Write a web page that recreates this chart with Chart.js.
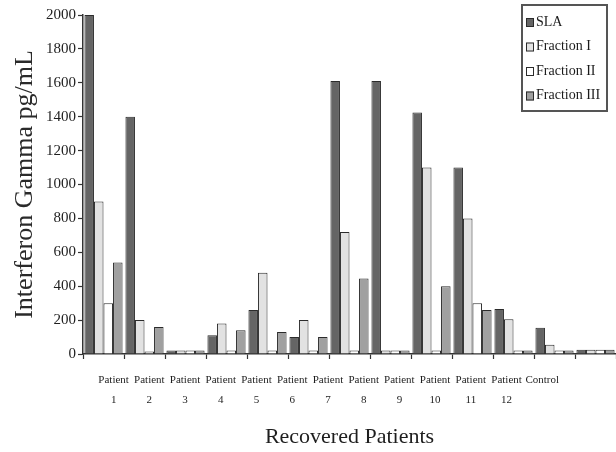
<!DOCTYPE html>
<html>
<head>
<meta charset="utf-8">
<script src="https://cdn.jsdelivr.net/npm/chart.js@4/dist/chart.umd.min.js"></script>
<style>
  html, body { margin: 0; padding: 0; background: #ffffff; }
  #wrap { width: 616px; height: 452px; position: relative; }
</style>
</head>
<body>
<div id="wrap"><canvas id="c"></canvas></div>
<script>
// ---- data ----
const categories = ['Patient 1','Patient 2','Patient 3','Patient 4','Patient 5','Patient 6',
  'Patient 7','Patient 8','Patient 9','Patient 10','Patient 11','Patient 12','Control'];
const tickLabels = [['Patient','1'],['Patient','2'],['Patient','3'],['Patient','4'],['Patient','5'],
  ['Patient','6'],['Patient','7'],['Patient','8'],['Patient','9'],['Patient','10'],['Patient','11'],
  ['Patient','12'],['Control']];
const seriesNames = ['SLA','Fraction I','Fraction II','Fraction III'];
const slaValues   = [2000, 1400, 20, 110, 260, 100, 1610, 1610, 1425, 1100, 265, 155, 25];
const frac1Values = [ 900,  200, 20, 180, 480, 200,  720,   20, 1100,  800, 205,  55, 25];
const frac2Values = [ 300,   15, 20,  20,  20,  20,   20,   20,   20,  300,  20,  20, 25];
const frac3Values = [ 540,  160, 20, 140, 130, 100,  445,   20,  400,  260,  20,  20, 25];
const yTicks = [0,200,400,600,800,1000,1200,1400,1600,1800,2000];

const SERIF = '"Liberation Serif", "Times New Roman", serif';
const fills = ['#656565', '#e2e2e2', '#ffffff', '#a0a0a0'];
const edge = '#2b2b2b';

const legendBox = {
  id: 'legendBox',
  afterDraw(chart) {
    const ctx = chart.ctx;
    const ca = chart.chartArea;
    const w = 85, h = 106;
    const x0 = ca.right - w - 9, y0 = ca.top - 10;
    ctx.save();
    ctx.fillStyle = '#ffffff';
    ctx.fillRect(x0, y0, w, h);
    ctx.lineWidth = 2;
    ctx.strokeStyle = '#555555';
    ctx.strokeRect(x0, y0, w, h);
    ctx.font = '14px ' + SERIF;
    ctx.textBaseline = 'middle';
    chart.data.datasets.forEach((ds, i) => {
      const cy = y0 + 17 + i * 24.5;
      ctx.fillStyle = ds.backgroundColor;
      ctx.fillRect(x0 + 4, cy - 4, 8, 9);
      ctx.lineWidth = 1;
      ctx.strokeStyle = edge;
      ctx.strokeRect(x0 + 4.5, cy - 3.5, 7, 8);
      ctx.fillStyle = '#1a1a1a';
      ctx.fillText(ds.label, x0 + 14, cy);
    });
    ctx.restore();
  }
};

const whiteBg = {
  id: 'whiteBg',
  beforeDraw(chart) {
    const ctx = chart.ctx;
    ctx.save();
    ctx.fillStyle = '#ffffff';
    ctx.fillRect(0, 0, chart.width, chart.height);
    ctx.restore();
  }
};

const allValues = [slaValues, frac1Values, frac2Values, frac3Values];

new Chart(document.getElementById('c'), {
  type: 'bar',
  data: {
    labels: categories,
    datasets: allValues.map((vals, i) => ({
      label: seriesNames[i],
      data: vals,
      backgroundColor: fills[i],
      borderColor: edge,
      borderWidth: 1,
      categoryPercentage: 0.93,
      barPercentage: 1.0
    }))
  },
  options: {
    responsive: true,
    maintainAspectRatio: false,
    animation: false,
    layout: { padding: { top: 15, right: 0, bottom: 2, left: 0 } },
    plugins: {
      legend: { display: false },
      tooltip: { enabled: false }
    },
    scales: {
      y: {
        min: 0, max: 2000,
        afterBuildTicks(axis) { axis.ticks = yTicks.map(v => ({ value: v })); },
        afterFit(axis) { axis.width = 83; },
        ticks: {
          font: { family: SERIF, size: 15 }, color: '#1e1e1e', padding: 2,
          callback: (v) => String(v)
        },
        grid: { drawOnChartArea: false, tickLength: 5, color: '#333333', tickWidth: 1.2 },
        border: { color: '#333333', width: 1.5 },
        title: {
          display: true, text: 'Interferon Gamma pg/mL',
          font: { family: SERIF, size: 26 }, color: '#2a2a2a',
          padding: { top: 10, bottom: 0 }
        }
      },
      x: {
        type: 'category',
        offset: true,
        grid: { offset: true, drawOnChartArea: false, tickLength: 5, color: '#333333', tickWidth: 1.2 },
        border: { color: '#333333', width: 1.5 },
        ticks: { display: false }
      },
      xl: {
        type: 'linear',
        position: 'bottom',
        min: 0.716, max: 14.49,
        afterBuildTicks(axis) { axis.ticks = tickLabels.map((_, i) => ({ value: i + 1 })); },
        grid: { display: false },
        border: { display: false },
        ticks: {
          autoSkip: false, maxRotation: 0,
          font: { family: SERIF, size: 11, lineHeight: 1.8 },
          color: '#1e1e1e', padding: 3,
          callback: (v) => tickLabels[Math.round(v) - 1]
        },
        title: {
          display: true, text: 'Recovered Patients',
          font: { family: SERIF, size: 22 }, color: '#1e1e1e',
          padding: { top: 11, bottom: 0 }
        }
      }
    }
  },
  plugins: [whiteBg, legendBox]
});
</script>
</body>
</html>
